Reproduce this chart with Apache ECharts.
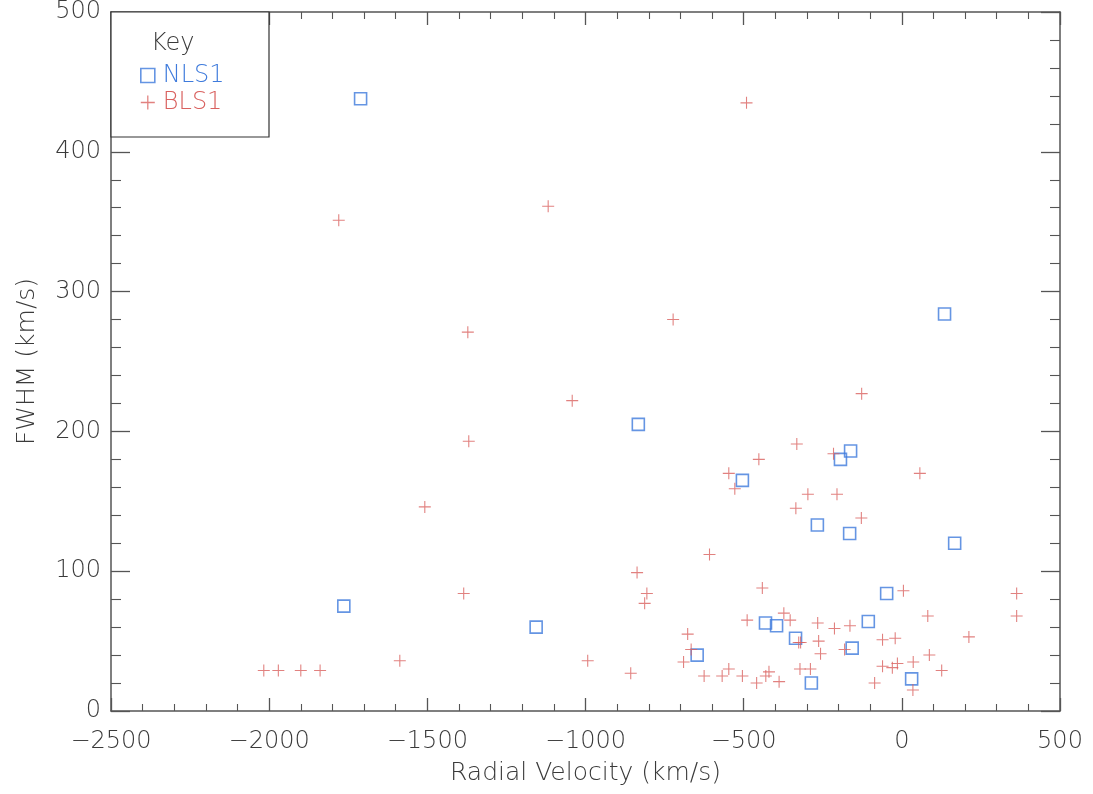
<!DOCTYPE html>
<html>
<head>
<meta charset="utf-8">
<script src="https://cdn.jsdelivr.net/npm/echarts@6/dist/echarts.min.js"></script>
<style>html,body{margin:0;padding:0;background:#fff}#c{width:1093px;height:794px}</style>
</head>
<body>
<div id="c"></div>
<script>
const seriesNames = ['NLS1', 'BLS1'];
const xLabel = 'Radial Velocity (km/s)';
const yLabel = 'FWHM (km/s)';
const legendTitle = 'Key';

// NLS1 points [radial velocity, FWHM]
const nls1 = [
  [-1711, 438], [135, 284], [-833, 205], [-504, 165], [-162, 186], [-194, 180],
  [-267, 133], [-165, 127], [167, 120], [-1764, 75], [-1156, 60], [-48, 84],
  [-106, 64], [-431, 63], [-396, 61], [-336, 52], [-157, 45], [-647, 40],
  [-286, 20], [31, 23]
];

// BLS1 points [radial velocity, FWHM]
const bls1 = [
  [-491, 435], [-1780, 351], [-1118, 361], [-1372, 271], [-723, 280], [-1042, 222],
  [-127, 227], [-1369, 193], [-1508, 146], [-1587, 36], [-1385, 84], [-993, 36],
  [-2017, 29], [-1971, 29], [-1900, 29], [-1839, 29], [-332, 191], [-216, 184],
  [-452, 180], [-547, 170], [-528, 159], [-297, 155], [-205, 155], [-335, 145],
  [-128, 138], [-608, 112], [-837, 99], [-806, 84], [-813, 77], [-441, 88],
  [-373, 70], [-353, 65], [-489, 65], [-266, 63], [-213, 59], [-164, 61],
  [-677, 55], [-666, 44], [-690, 35], [-857, 27], [-625, 25], [-568, 25],
  [-547, 30], [-504, 25], [-459, 20], [-430, 25], [-420, 28], [-388, 21],
  [-326, 49], [-320, 49], [-263, 50], [-257, 41], [-322, 30], [-289, 30],
  [-181, 44], [-86, 20], [-61, 51], [-21, 52], [-61, 32], [-30, 31],
  [-14, 34], [57, 170], [5, 86], [363, 84], [363, 68], [82, 68],
  [212, 53], [87, 40], [36, 35], [126, 29], [35, 15]
];

const xRange = [-2500, 500];
const yRange = [0, 500];

const BLUE = '#3f7bdc';
const RED = '#d9615f';
const AX = '#555';
const TXT = '#3a3a3a';
const FONT = 'DejaVu Sans';
const crossPath = 'path://M-0.09,-1 H0.09 V-0.09 H1 V0.09 H0.09 V1 H-0.09 V0.09 H-1 V-0.09 H-0.09 Z';

const tickBase = (len, mlen, show) => ({
  axisLine: { show: true, onZero: false, lineStyle: { color: AX, width: 1.5 } },
  axisTick: { show: true, inside: true, length: len, lineStyle: { color: AX, width: 1.3 } },
  minorTick: { show: true, splitNumber: 5, length: mlen, lineStyle: { color: AX, width: 1.1 } },
  splitLine: { show: false },
  axisLabel: { show: show }
});

const chart = echarts.init(document.getElementById('c'));
chart.setOption({
  animation: false,
  backgroundColor: '#fff',
  grid: { left: 111, right: 33, top: 12, bottom: 83, containLabel: false, outerBoundsMode: 'none' },
  xAxis: [
    Object.assign(tickBase(13, 7, true), {
      type: 'value', min: xRange[0], max: xRange[1], interval: 500, position: 'bottom',
      name: xLabel, nameLocation: 'middle', nameGap: 50, nameMoveOverlap: false,
      nameTextStyle: { fontFamily: FONT, fontSize: 25, fontWeight: 200, color: TXT },
      axisLabel: { show: true, margin: 19, fontFamily: FONT, fontSize: 24, fontWeight: 200, color: TXT,
        formatter: v => String(v).replace('-', '\u2212') }
    }),
    Object.assign(tickBase(13, 7, false), {
      type: 'value', min: xRange[0], max: xRange[1], interval: 500, position: 'top'
    })
  ],
  yAxis: [
    Object.assign(tickBase(19, 10, true), {
      type: 'value', min: yRange[0], max: yRange[1], interval: 100, position: 'left',
      name: yLabel, nameLocation: 'middle', nameGap: 71, nameMoveOverlap: false,
      nameTextStyle: { fontFamily: FONT, fontSize: 25, fontWeight: 200, color: TXT },
      axisLabel: { show: true, margin: 10, fontFamily: FONT, fontSize: 24, fontWeight: 200, color: TXT }
    }),
    Object.assign(tickBase(19, 10, false), {
      type: 'value', min: yRange[0], max: yRange[1], interval: 100, position: 'right'
    })
  ],
  legend: {
    orient: 'vertical', left: 135, top: 58, itemWidth: 14, itemHeight: 14, itemGap: 2,
    z: 10,
    textStyle: { fontFamily: FONT, fontSize: 24, fontWeight: 200, lineHeight: 25, padding: [0, 0, 0, 3] },
    data: [
      { name: seriesNames[0], icon: 'rect', itemStyle: { color: 'rgba(0,0,0,0)', borderColor: BLUE, borderWidth: 1.6 }, textStyle: { color: BLUE } },
      { name: seriesNames[1], icon: crossPath, itemStyle: { color: RED, borderWidth: 0 }, textStyle: { color: RED } }
    ]
  },
  graphic: [
    { type: 'rect', z: 5, shape: { x: 111, y: 12, width: 158, height: 125 },
      style: { fill: '#fff', stroke: '#333', lineWidth: 1.2 } },
    { type: 'text', z: 6, left: 151, top: 32,
      style: { text: legendTitle, fontFamily: FONT, fontSize: 24, fontWeight: 200, fill: TXT } }
  ],
  series: [
    { name: seriesNames[0], type: 'scatter', xAxisIndex: 0, yAxisIndex: 0, data: nls1,
      symbol: 'rect', symbolSize: 12,
      itemStyle: { color: 'rgba(0,0,0,0)', borderColor: BLUE, borderWidth: 1.6 } },
    { name: seriesNames[1], type: 'scatter', xAxisIndex: 0, yAxisIndex: 0, data: bls1,
      symbol: crossPath, symbolSize: 12, symbolKeepAspect: true,
      itemStyle: { color: RED } }
  ]
});
</script>
</body>
</html>
